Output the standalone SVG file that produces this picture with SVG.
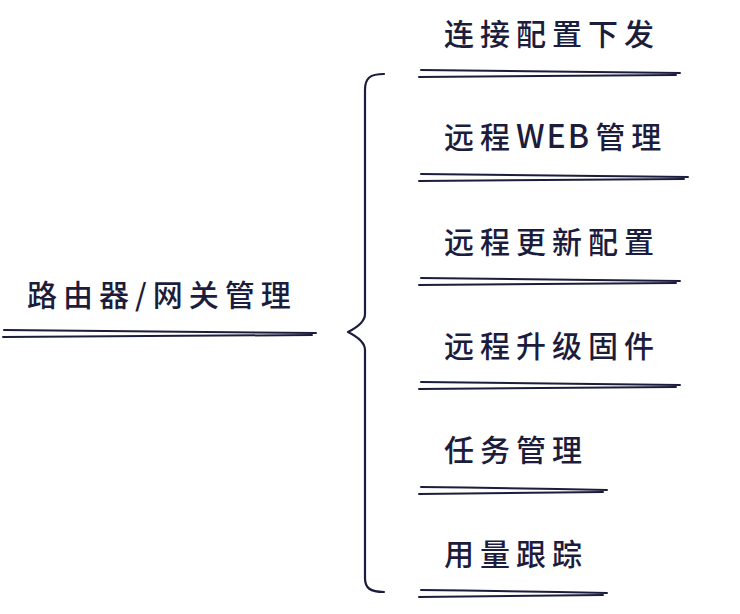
<svg xmlns="http://www.w3.org/2000/svg" width="740" height="614" viewBox="0 0 740 614">
<style>
.t{font-family:"Noto Sans CJK SC","Noto Sans",sans-serif;font-size:30px;font-weight:500;fill:#1c1c3c;letter-spacing:6px}
.w{letter-spacing:2px;font-size:32px}
.u{fill:none;stroke:#1c1c3c;stroke-width:2;stroke-linecap:round}
.b{fill:none;stroke:#1c1c3c;stroke-width:2.2;stroke-linecap:round;stroke-linejoin:round}
</style>
<rect width="740" height="614" fill="#ffffff"/>
<g id="root">
<text class="t" x="27" y="306">路由器/网关管理</text>
<path class="u" d="M4,330 Q160,331 316,333"/>
<path class="u" d="M3,337 Q150,336 312,335"/>
</g>
<g id="connectors">
<path class="b" d="M384,74 C370,74 365,78 365,90 L365,314 C365,322 356,328 348,332 C356,336 365,342 365,350 L365,578 C365,588 370,592 384,592"/>
</g>
<g id="n1">
<text class="t" x="444" y="45">连接配置下发</text>
<path class="u" d="M421,70 Q550,71 680,73"/>
<path class="u" d="M419,77 Q545,76 676,75"/>
</g>
<g id="n2">
<text class="t" x="444" y="148">远程<tspan class="w">WEB</tspan><tspan dx="4">管理</tspan></text>
<path class="u" d="M421,174 Q555,175 688,177"/>
<path class="u" d="M419,181 Q550,180 684,179"/>
</g>
<g id="n3">
<text class="t" x="444" y="253">远程更新配置</text>
<path class="u" d="M421,278 Q550,279 680,281"/>
<path class="u" d="M419,285 Q545,284 676,283"/>
</g>
<g id="n4">
<text class="t" x="444" y="357">远程升级固件</text>
<path class="u" d="M421,382 Q550,383 680,385"/>
<path class="u" d="M419,389 Q545,388 676,387"/>
</g>
<g id="n5">
<text class="t" x="444" y="461">任务管理</text>
<path class="u" d="M421,487 Q515,488 607,490"/>
<path class="u" d="M419,494 Q510,493 603,492"/>
</g>
<g id="n6">
<text class="t" x="444" y="565">用量跟踪</text>
<path class="u" d="M421,590 Q515,591 607,593"/>
<path class="u" d="M419,597 Q510,596 603,595"/>
</g>
</svg>
